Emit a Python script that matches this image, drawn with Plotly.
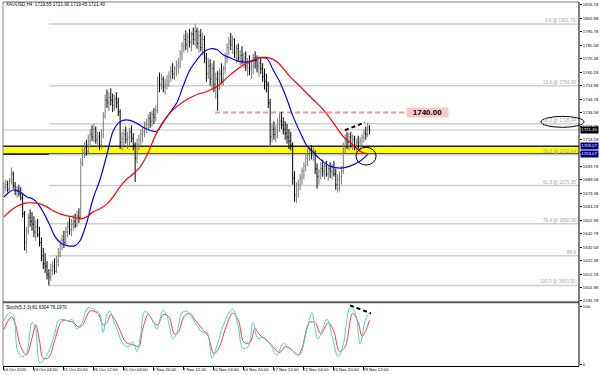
import plotly.graph_objects as go

# ---------------- data ----------------
title_text = "XAUUSD,H4  1719.55 1721.90 1719.45 1721.40"
stoch_text = "Stoch(5,3,3) 81.6304 76.1970"

highs = [
    1682, 1684, 1683, 1685, 1693, 1690, 1682, 1679, 1680, 1678,
    1673, 1660, 1648, 1658, 1661, 1659, 1656, 1653, 1654, 1648,
    1640, 1632, 1628, 1622, 1616, 1620, 1622, 1624, 1626, 1632,
    1638, 1642, 1645, 1648, 1652, 1655, 1654, 1657, 1658, 1660,
    1662, 1700, 1708, 1712, 1714, 1718, 1722, 1725, 1726, 1724,
    1720, 1720, 1722, 1735, 1748, 1752, 1750, 1753, 1749, 1748,
    1750, 1746, 1737, 1720, 1722, 1724, 1720, 1723, 1725, 1719,
    1712, 1715, 1718, 1722, 1724, 1728, 1730, 1733, 1735, 1736,
    1738, 1740, 1762, 1765, 1764, 1762, 1760, 1763, 1766, 1770,
    1772, 1770, 1774, 1776, 1782, 1788, 1794, 1797, 1795, 1798,
    1796, 1799, 1802, 1799, 1797, 1798, 1795, 1793, 1780, 1776,
    1775, 1772, 1774, 1765, 1766, 1768, 1772, 1770, 1780, 1787,
    1792, 1795, 1793, 1791, 1786, 1787, 1782, 1785, 1780, 1781,
    1776, 1778, 1774, 1779, 1781, 1778, 1775, 1777, 1772, 1768,
    1764, 1758, 1745, 1726, 1728, 1725, 1730, 1734, 1735, 1731,
    1728, 1726, 1722, 1720, 1712, 1690, 1682, 1684, 1688, 1693,
    1697, 1704, 1707, 1709, 1710, 1708, 1706, 1696, 1692, 1697,
    1699, 1696, 1698, 1695, 1697, 1696, 1698, 1692, 1688, 1690,
    1694, 1712, 1718, 1720, 1719, 1720, 1718, 1717, 1715, 1717,
    1716, 1718, 1722, 1724, 1727, 1725,
]
lows = [
    1673, 1675, 1674, 1675, 1680, 1677, 1672, 1670, 1671, 1668,
    1655, 1630, 1628, 1642, 1648, 1645, 1640, 1637, 1640, 1633,
    1622, 1616, 1613, 1608, 1603.5, 1607, 1611, 1612, 1613, 1618,
    1625, 1630, 1632, 1634, 1640, 1642, 1641, 1645, 1647, 1648,
    1651, 1654, 1694, 1700, 1702, 1703, 1708, 1713, 1712, 1711,
    1708, 1706, 1707, 1715, 1730, 1738, 1736, 1740, 1735, 1736,
    1738, 1732, 1707, 1706, 1709, 1711, 1707, 1710, 1712, 1706,
    1682, 1696, 1706, 1710, 1712, 1716, 1719, 1721, 1723, 1724,
    1726, 1728, 1734, 1750, 1752, 1750, 1748, 1752, 1754, 1758,
    1760, 1759, 1762, 1764, 1768, 1774, 1780, 1782, 1780, 1784,
    1781, 1786, 1785, 1783, 1780, 1781, 1778, 1772, 1758, 1760,
    1755, 1752, 1750, 1745, 1736, 1752, 1756, 1755, 1764, 1772,
    1778, 1782, 1779, 1776, 1772, 1773, 1770, 1771, 1768, 1766,
    1762, 1763, 1760, 1764, 1768, 1765, 1762, 1764, 1758, 1752,
    1750, 1738, 1710, 1712, 1714, 1712, 1715, 1720, 1722, 1718,
    1714, 1711, 1707, 1706, 1680, 1667, 1666, 1670, 1676, 1680,
    1684, 1690, 1694, 1698, 1699, 1698, 1688, 1677, 1680, 1684,
    1686, 1684, 1686, 1683, 1685, 1684, 1686, 1676, 1674, 1675,
    1680, 1688, 1704, 1707, 1706, 1708, 1706, 1706, 1705, 1707,
    1706, 1709, 1712, 1714, 1716, 1718,
]
closes = [
    1678, 1680, 1676, 1683, 1688, 1679, 1675, 1676, 1673, 1670,
    1658, 1636, 1645, 1655, 1652, 1650, 1644, 1648, 1642, 1636,
    1626, 1620, 1618, 1612, 1610, 1615, 1618, 1614, 1622, 1628,
    1635, 1638, 1636, 1644, 1648, 1646, 1650, 1652, 1649, 1656,
    1655, 1696, 1704, 1708, 1705, 1713, 1718, 1716, 1722, 1714,
    1716, 1710, 1718, 1732, 1744, 1742, 1746, 1744, 1740, 1745,
    1742, 1735, 1712, 1715, 1718, 1714, 1716, 1720, 1715, 1710,
    1700, 1710, 1714, 1718, 1720, 1725, 1726, 1730, 1728, 1733,
    1731, 1736, 1758, 1756, 1760, 1754, 1756, 1758, 1762, 1766,
    1764, 1768, 1770, 1772, 1779, 1785, 1790, 1786, 1792, 1788,
    1794, 1790, 1796, 1787, 1793, 1784, 1790, 1776, 1764, 1770,
    1760, 1768, 1756, 1760, 1755, 1764, 1760, 1768, 1776, 1784,
    1788, 1786, 1790, 1780, 1783, 1776, 1778, 1774, 1776, 1770,
    1772, 1768, 1770, 1776, 1774, 1770, 1772, 1768, 1762, 1758,
    1756, 1742, 1716, 1722, 1718, 1720, 1726, 1728, 1725, 1722,
    1719, 1716, 1713, 1710, 1685, 1672, 1676, 1680, 1685, 1690,
    1694, 1700, 1703, 1706, 1702, 1704, 1692, 1686, 1690, 1692,
    1690, 1694, 1688, 1692, 1690, 1693, 1688, 1680, 1684, 1686,
    1690, 1708, 1714, 1712, 1716, 1711, 1714, 1710, 1712, 1709,
    1713, 1716, 1719, 1718, 1723, 1721.4,
]
first_open = 1676

# moving averages (bar index, price)
blue_ma_idx = [0, 1.7, 4.9, 8.6, 12.3, 15.5, 18.2, 20.9, 24.6, 27.3, 30, 33.7, 38, 40.6, 44.3,
               47.5, 51.2, 55, 58.2, 60.9, 63.5, 67.2, 71, 74.2, 77.9, 81.6, 84.9, 88.6,
               92.3, 95.5, 99.3, 103, 106.2, 110, 113.7, 116.9, 120.6, 125.9, 131.3, 136.6,
               140.3, 143.5, 147.3, 151, 154.2, 158, 161.7, 164.9, 168.6, 174, 179.3, 184.6,
               190, 194.2]
blue_ma_val = [1670.6, 1672.9, 1675.9, 1674.4, 1670.6, 1669.1, 1665.4, 1659.3, 1648.8, 1640.5,
               1636.0, 1633.7, 1633.7, 1637.4, 1651.8, 1669.1, 1683.5, 1703.1, 1720.4, 1726.4,
               1728.7, 1728.7, 1726.4, 1723.4, 1721.2, 1720.4, 1727.2, 1734.7, 1742.3, 1754.3,
               1767.2, 1774.7, 1780.0, 1783.0, 1782.2, 1778.5, 1776.2, 1773.2, 1773.2, 1776.2,
               1775.5, 1767.2, 1757.4, 1744.5, 1731.7, 1719.6, 1709.1, 1704.6, 1699.3, 1694.0,
               1692.5, 1694.0, 1697.8, 1703.1]
red_ma_idx = [0, 1.7, 4.9, 8.6, 12.3, 15.5, 19.3, 23, 26.2, 29.9, 33.7, 36.9, 40.6, 44.3, 47.5,
              51.2, 55, 58.2, 61.9, 65.6, 68.9, 72.6, 76.3, 81.6, 87, 92.3, 97.6, 103, 108.3,
              113.7, 119, 124.3, 129.7, 136.6, 140.9, 145.6, 152.6, 158, 164.9, 170.2, 175.5,
              180.9, 185.7, 190, 194.2]
red_ma_val = [1655.5, 1657.8, 1661.6, 1664.6, 1666.1, 1666.1, 1665.4, 1663.1, 1660.1, 1657.8,
              1656.3, 1655.5, 1654.0, 1655.5, 1659.3, 1661.6, 1665.4, 1670.6, 1678.2, 1684.2,
              1688.0, 1693.3, 1702.3, 1719.6, 1731.7, 1739.3, 1744.5, 1748.3, 1750.6, 1754.3,
              1761.1, 1767.2, 1772.4, 1776.2, 1776.2, 1773.2, 1761.9, 1754.3, 1744.5, 1737.0,
              1727.2, 1716.6, 1710.6, 1705.3, 1703.1]

# stochastic (bar index, value)
stoch_main_idx = [0, 2.9, 4.9, 7.5, 10.2, 12.3, 15, 16.6, 19.3, 23, 27.3, 28.9, 31.5, 34.2, 36.3,
                  39, 41.6, 44.9, 49.7, 51.3, 52.9, 55, 56.6, 58.2, 60.9, 63.5, 66.2, 68.9, 71,
                  72.6, 75.3, 79, 81.6, 83.3, 84.9, 87, 90.2, 92.3, 95, 97.6, 100.9, 105.7,
                  108.3, 111, 113.7, 116.9, 120.6, 122.2, 124.9, 127.5, 130.2, 132.9, 135.5,
                  138.2, 141.9, 145.7, 148.9, 152.6, 156.3, 157.9, 161.7, 164.3, 167.5, 172.3,
                  175, 178.2, 180.9, 184.6, 187.3, 190, 192.6, 194.2, 195]
stoch_main_val = [74.7, 88.8, 86, 21.3, 12.9, 21.3, 71.9, 66.3, 2, 15.7, 55, 74.7, 77.5, 74.7, 77.5,
                  60.7, 71.9, 97.2, 91.6, 86, 55, 86, 91.6, 77.5, 55, 35.4, 29.8, 38.2, 21.3,
                  43.8, 91.6, 77.5, 60.7, 77.5, 94.4, 83.1, 43.8, 55, 88.8, 91.6, 77.5, 55,
                  55, 10.1, 32.6, 66.3, 91.6, 94.4, 66.3, 27, 29.8, 71.9, 43.8,
                  46.6, 35.4, 15.7, 35.4, 27, 15.7, 15.7, 60.7, 88.8, 43.8, 77.5,
                  49.4, 12.9, 32.6, 97.2, 88.8, 35.4, 74.7, 86, 88]
stoch_sig_idx = [0, 4, 6, 9, 12, 15, 17, 19, 21, 24, 27, 30, 32, 35, 37, 40, 42, 46, 50, 53, 55,
                 57, 59, 62, 65, 68, 70, 72, 74, 77, 80, 82, 85, 88, 91, 93, 96, 99, 102, 106,
                 109, 112, 115, 118, 122, 125, 128, 131, 134, 136, 139, 143, 147, 150, 153, 157,
                 159, 163, 166, 169, 173, 176, 179, 182, 186, 189, 191, 193, 195]
stoch_sig_val = [60, 82, 70, 30, 16, 45, 68, 40, 10, 12, 40, 70, 76, 74, 72, 64, 68, 92, 88, 68, 72,
                 86, 78, 58, 38, 34, 32, 30, 60, 86, 72, 68, 86, 82, 52, 55, 82, 88, 76, 60,
                 48, 18, 30, 60, 88, 76, 38, 36, 62, 52, 44, 32, 20, 30, 26, 16,
                 28, 72, 72, 52, 72, 56, 22, 30, 88, 72, 48, 58, 76]

# chart levels and annotations
price_ticks = [round(1816.18 - 10.2 * k, 2) for k in range(23)]
bid_price = 1721.40
band_low, band_high = 1703.07, 1709.07
fib_high, fib_low = 1801.79, 1603.5
fib_ratios = [0.0, 23.6, 38.2, 50.0, 61.8, 76.4, 88.6, 100.0]
fib_start_bar = 24
target_level = 1734.7
target_text = "1740.00"
target_start_bar = 112.6
wedge_bars, wedge_prices = [181.9, 192.6], [1721.2, 1727.2]
stoch_wedge_bars, stoch_wedge_vals = [184.6, 195.8], [101.7, 87.9]
circle_bars, circle_prices = [187.8, 198.5], [1694.8, 1708.3]
x_label_bars = [0, 16, 32, 48, 64, 80, 96, 112, 128, 144, 160, 176, 192]
x_labels = ["14 Oct 2011", "19 Oct 04:00", "21 Oct 20:00", "26 Oct 12:00", "31 Oct 04:00",
            "2 Nov 20:00", "7 Nov 12:00", "10 Nov 04:00", "14 Nov 20:00", "17 Nov 12:00",
            "22 Nov 04:00", "24 Nov 20:00", "29 Nov 12:00"]

assert len(highs) == len(lows) == len(closes) == 196
n = len(closes)
bars = list(range(n))
opens = [first_open] + closes[:-1]

# tick labels hidden behind the price boxes in the picture are left blank
hidden_price_ticks = [1703.98]
price_ticktext = ["" if v in hidden_price_ticks else f"{v:.2f}" for v in price_ticks]

# ---------------- figure ----------------
FONT = "Liberation Sans"
XL, XR = 3 / 600, 579 / 600
X_RANGE = [-0.48, 306.72]
MAIN_DOM = [1 - 303 / 375, 1 - 2 / 375]
STO_DOM = [1 - 368 / 375, 1 - 305 / 375]

fig = go.Figure()
fig.add_trace(go.Ohlc(x=bars, open=opens, high=highs, low=lows, close=closes,
                      increasing=dict(line=dict(color="#7a7a7a", width=1)),
                      decreasing=dict(line=dict(color="#000000", width=1)),
                      tickwidth=0.4, xaxis="x", yaxis="y", hoverinfo="skip"))
fig.add_trace(go.Scatter(x=blue_ma_idx, y=blue_ma_val, mode="lines",
                         line=dict(color="#0000ff", width=1.2, shape="spline"),
                         xaxis="x", yaxis="y", hoverinfo="skip"))
fig.add_trace(go.Scatter(x=red_ma_idx, y=red_ma_val, mode="lines",
                         line=dict(color="#ff0000", width=1.2, shape="spline"),
                         xaxis="x", yaxis="y", hoverinfo="skip"))
fig.add_trace(go.Scatter(x=stoch_sig_idx, y=stoch_sig_val, mode="lines",
                         line=dict(color="#ff3b3b", width=1, shape="spline"),
                         xaxis="x2", yaxis="y2", hoverinfo="skip"))
fig.add_trace(go.Scatter(x=stoch_main_idx, y=stoch_main_val, mode="lines",
                         line=dict(color="#48d1cc", width=1, shape="spline"),
                         xaxis="x2", yaxis="y2", hoverinfo="skip"))
fig.add_trace(go.Scatter(x=wedge_bars, y=wedge_prices, mode="lines",
                         line=dict(color="black", width=2, dash="4px,3px"),
                         xaxis="x", yaxis="y", hoverinfo="skip"))
fig.add_trace(go.Scatter(x=stoch_wedge_bars, y=stoch_wedge_vals, mode="lines",
                         line=dict(color="black", width=2, dash="4px,3px"),
                         xaxis="x2", yaxis="y2", hoverinfo="skip", cliponaxis=False))

shapes = []
# yellow band
shapes.append(dict(type="rect", xref="paper", yref="y", x0=XL, x1=XR, y0=band_low, y1=band_high,
                   fillcolor="#ffff00", line=dict(width=0), layer="below"))
for lv in (band_low, band_high):
    shapes.append(dict(type="line", xref="paper", yref="y", x0=XL, x1=XR, y0=lv, y1=lv,
                       line=dict(color="#1c1c5a", width=1.6), layer="below"))
# fibonacci levels
fib_prices = [fib_high - (fib_high - fib_low) * r / 100 for r in fib_ratios]
for r, p in zip(fib_ratios, fib_prices):
    shapes.append(dict(type="line", xref="x", yref="y", x0=fib_start_bar, x1=X_RANGE[1], y0=p, y1=p,
                       line=dict(color="#cfcfcf", width=1.5), layer="below"))
# bid line
shapes.append(dict(type="line", xref="paper", yref="y", x0=XL, x1=XR, y0=bid_price, y1=bid_price,
                   line=dict(color="#c8c8c8", width=1), layer="below"))
# target dashed line
shapes.append(dict(type="line", xref="x", yref="y", x0=target_start_bar, x1=215, y0=target_level,
                   y1=target_level, line=dict(color="#f29a9a", width=2, dash="5px,3px"), layer="below"))
# circle
shapes.append(dict(type="circle", xref="x", yref="y", x0=circle_bars[0], x1=circle_bars[1],
                   y0=circle_prices[0], y1=circle_prices[1], line=dict(color="black", width=1)))
# ellipse around fib label on axis
shapes.append(dict(type="circle", xref="paper", yref="paper", x0=541 / 600, x1=584 / 600,
                   y0=1 - 128 / 375, y1=1 - 117 / 375, line=dict(color="black", width=1)))
# frame lines
shapes.append(dict(type="line", xref="paper", yref="paper", x0=XL, x1=XR, y0=1 - 2 / 375, y1=1 - 2 / 375,
                   line=dict(color="#808080", width=1)))
shapes.append(dict(type="line", xref="paper", yref="paper", x0=XL, x1=XL, y0=1 - 368 / 375, y1=1 - 2 / 375,
                   line=dict(color="#808080", width=1)))
shapes.append(dict(type="line", xref="paper", yref="paper", x0=XL, x1=XR, y0=1 - 303.8 / 375,
                   y1=1 - 303.8 / 375, line=dict(color="#5a5a5a", width=2)))
shapes.append(dict(type="line", xref="paper", yref="paper", x0=XR, x1=XR, y0=1 - 368 / 375, y1=1 - 2 / 375,
                   line=dict(color="#000000", width=1)))

ann = []
small = dict(family=FONT, size=4.6, color="black")
tiny = dict(family=FONT, size=4.3, color="black")
ann.append(dict(text=title_text, xref="paper", yref="paper", x=4 / 600, y=1 - 5 / 375,
                xanchor="left", yanchor="middle", showarrow=False, font=small))
ann.append(dict(text=stoch_text, xref="paper", yref="paper", x=4 / 600, y=1 - 309 / 375,
                xanchor="left", yanchor="middle", showarrow=False, font=small))
for r, p in zip(fib_ratios, fib_prices):
    txt = "88.6" if r == 88.6 else f"{r:.1f} @ {p:.2f}"
    ann.append(dict(text=txt, xref="paper", yref="y", x=577 / 600, y=p, xanchor="right",
                    yanchor="bottom", showarrow=False, borderpad=0,
                    font=dict(family=FONT, size=4.6, color="#a5a5a5")))
ann.append(dict(text="<b>" + target_text + "</b>", xref="x", yref="y", x=225.9, y=target_level,
                xanchor="center", yanchor="middle", showarrow=False, bgcolor="#f9c9c9",
                width=40, height=8, borderpad=0.5, font=dict(family=FONT, size=8, color="black")))
for txt, p, bg in ((f"{bid_price:.2f}", bid_price, "#000000"),
                   (f"{band_high:.2f}", band_high, "#000080"),
                   (f"{band_low:.2f}", band_low, "#000080")):
    ann.append(dict(text=txt, xref="paper", yref="y", x=580 / 600, y=p, xanchor="left",
                    yanchor="middle", showarrow=False, bgcolor=bg, borderpad=0.3,
                    font=dict(family=FONT, size=4.3, color="white")))
for b, t in zip(x_label_bars, x_labels):
    ann.append(dict(text=t, xref="x2", yref="paper", x=b, y=1 - 371 / 375, xanchor="left",
                    yanchor="middle", xshift=-2, showarrow=False, borderpad=0, font=tiny))

fig.update_layout(
    width=600, height=375, margin=dict(l=0, r=0, t=0, b=0),
    paper_bgcolor="white", plot_bgcolor="white", showlegend=False,
    xaxis=dict(domain=[XL, XR], range=X_RANGE, anchor="y", visible=False,
               rangeslider=dict(visible=False), fixedrange=True),
    yaxis=dict(domain=MAIN_DOM, range=[1591.44, 1818.44], anchor="x", side="right",
               tickvals=price_ticks, ticktext=price_ticktext,
               ticks="outside", ticklen=2, tickcolor="black", showgrid=False, zeroline=False,
               showline=False, tickfont=tiny),
    xaxis2=dict(domain=[XL, XR], range=X_RANGE, anchor="y2", matches="x",
                tickvals=x_label_bars, ticktext=["" for _ in x_label_bars], ticks="outside",
                ticklen=3, tickcolor="black", showline=True, linecolor="black", linewidth=1,
                showgrid=False, zeroline=False),
    yaxis2=dict(domain=STO_DOM, range=[-3.4, 105.2], anchor="x2", side="right",
                tickvals=[0, 100], ticktext=["0", "100"], ticks="outside", ticklen=2,
                tickcolor="black", showgrid=False, zeroline=False, showline=False, tickfont=tiny),
    shapes=shapes, annotations=ann,
)

fig.write_html("out.html", config={"displayModeBar": False},
               post_script="document.body.style.margin='0';document.body.style.padding='0';")
